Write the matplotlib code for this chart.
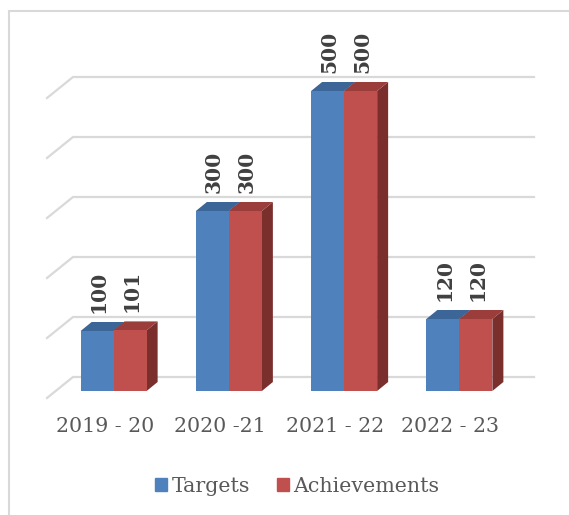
import matplotlib.pyplot as plt
from matplotlib.patches import Polygon, Rectangle

plt.rcParams['font.family'] = ['DejaVu Serif']

categories = ["2019 - 20", "2020 -21", "2021 - 22", "2022 - 23"]
targets = [100, 300, 500, 120]
achievements = [101, 300, 500, 120]
series_names = ["Targets", "Achievements"]

front_colors = ["#4F81BD", "#C0504D"]
top_colors = ["#3C6598", "#9B3D3B"]
side_colors = ["#335680", "#7A2F2D"]
text_gray = "#595959"
grid_gray = "#D9D9D9"

W, H = 569, 515
fig = plt.figure(figsize=(W / 100, H / 100), dpi=100)
# front-face coordinate system: category index on x, value on y
ax = fig.add_axes([56 / W, 124 / H, 461 / W, 300 / H])
ax.set_xlim(-0.5, len(categories) - 0.5)
ax.set_ylim(0, 500)
ax.axis('off')

kx = 461 / len(categories)   # px per category
ky = 300 / 500               # px per value unit

# depth offsets (pixels -> data units)
bar_dx, bar_dy = 11 / kx, 9 / ky
wall_dx, wall_dy = 17 / kx, 14 / ky
floor_dx, floor_dy = -9 / kx, -7 / ky
bw = 33 / kx

# back wall gridlines with slanted left edge
for v in range(0, 501, 100):
    x0 = -0.5 + wall_dx
    x1 = len(categories) - 0.5 + wall_dx
    ax.plot([-0.5 + floor_dx, x0, x1], [v + floor_dy, v + wall_dy, v + wall_dy],
            color=grid_gray, lw=1.6, clip_on=False, zorder=1,
            solid_joinstyle='miter')

# 3D-looking bars
for s, vals in enumerate([targets, achievements]):
    for i, v in enumerate(vals):
        left = i - bw + s * bw
        right = left + bw
        side = Polygon([(right, 0), (right + bar_dx, bar_dy),
                        (right + bar_dx, v + bar_dy), (right, v)],
                       closed=True, fc=side_colors[s], ec='none',
                       zorder=2 + s, clip_on=False)
        top = Polygon([(left, v), (left + bar_dx, v + bar_dy),
                       (right + bar_dx, v + bar_dy), (right, v)],
                      closed=True, fc=top_colors[s], ec='none',
                      zorder=2 + s, clip_on=False)
        ax.add_patch(side)
        ax.add_patch(top)
        ax.bar(left, v, width=bw, align='edge', color=front_colors[s],
               zorder=2 + s, clip_on=False)
        ax.text(left + bw / 2 + 1.5 / kx, v + bar_dy + 9 / ky, str(v),
                rotation=90, ha='center', va='bottom', fontsize=14.5,
                fontweight='bold', color="#404040", zorder=5)

for i, c in enumerate(categories):
    ax.text(i + floor_dx, -60, c, ha='center', va='center',
            fontsize=14.8, color=text_gray)

handles = [Rectangle((0, 0), 1, 1, color=c) for c in front_colors]
fig.legend(handles, series_names, loc='center',
           bbox_to_anchor=(297 / W, 1 - 486 / H), ncol=2, frameon=False,
           fontsize=14.8, labelcolor=text_gray, handlelength=0.6,
           handleheight=0.6, handletextpad=0.2, columnspacing=1.3)

fig.patches.append(Rectangle((8.5 / W, -0.1), 1.2, 1.1 - 11.5 / H,
                             transform=fig.transFigure, fill=False,
                             ec=grid_gray, lw=1.5))

fig.savefig("out.png", dpi=100)
